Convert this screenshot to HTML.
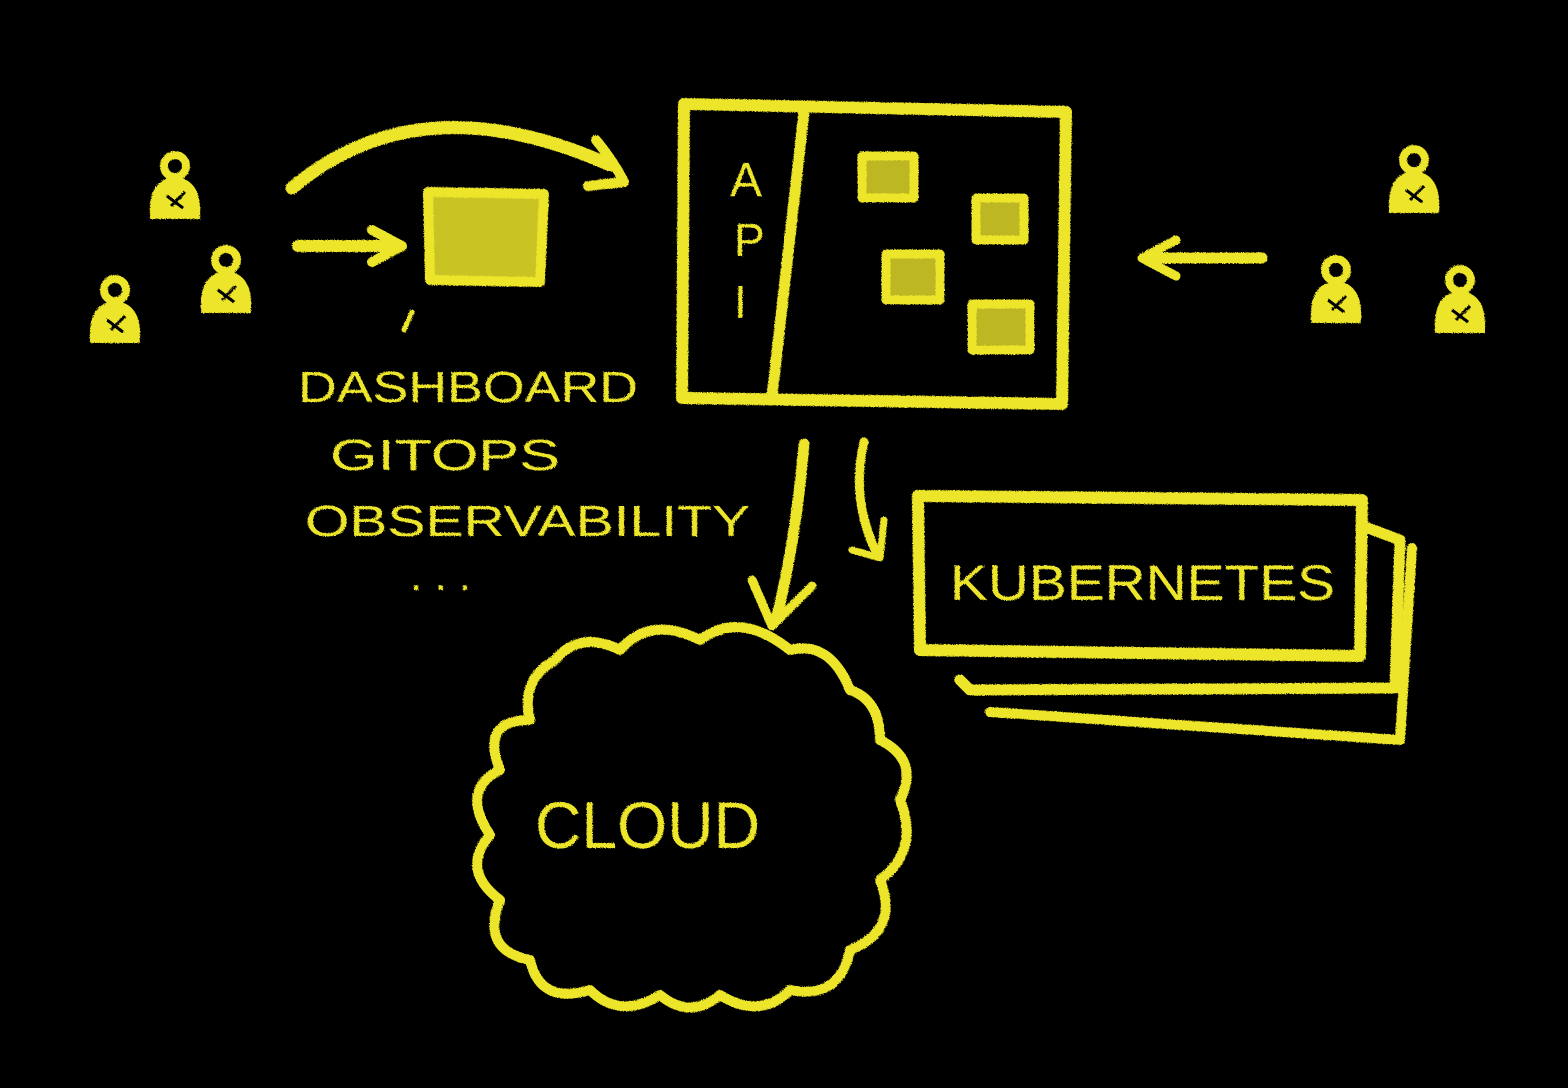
<!DOCTYPE html>
<html><head><meta charset="utf-8"><style>
html,body{margin:0;padding:0;background:#000;}
svg{display:block}
text{font-family:"Liberation Sans",sans-serif;fill:#ece52a;}
</style></head><body>
<svg width="1568" height="1088" viewBox="0 0 1568 1088" xmlns="http://www.w3.org/2000/svg">
<defs>
<filter id="chalk" x="-5%" y="-5%" width="110%" height="110%">
<feTurbulence type="fractalNoise" baseFrequency="0.9" numOctaves="2" result="n"/>
<feDisplacementMap in="SourceGraphic" in2="n" scale="3"/>
</filter>
<g id="person">
<circle cx="0" cy="-22" r="11" fill="none" stroke="#ece52a" stroke-width="8"/>
<path d="M-22 28 Q-24 -6 0 -8 Q24 -6 22 28 Z" fill="#ece52a" stroke="#ece52a" stroke-width="6"/>
<path d="M-8 8 L8 20 M-4 18 L10 4" stroke="#000" stroke-width="3"/>
</g>
</defs>
<rect width="1568" height="1088" fill="#000"/>
<g filter="url(#chalk)" stroke="#ece52a" fill="none" stroke-linecap="round" stroke-linejoin="round">
<path d="M684 104 L1066 112 L1062 404 L682 398 Z" stroke-width="12"/>
<path d="M804 112 L772 396" stroke-width="11"/>
<rect x="862" y="156" width="52" height="42" stroke-width="9" fill="#ece52a" fill-opacity="0.8"/>
<rect x="976" y="198" width="48" height="42" stroke-width="9" fill="#ece52a" fill-opacity="0.8"/>
<rect x="886" y="254" width="54" height="46" stroke-width="9" fill="#ece52a" fill-opacity="0.8"/>
<rect x="972" y="304" width="58" height="46" stroke-width="9" fill="#ece52a" fill-opacity="0.8"/>
<path d="M428 192 L544 194 L540 282 L430 280 Z" stroke-width="10" fill="#ece52a" fill-opacity="0.85"/>
<path d="M412 312 L404 330" stroke-width="5"/>
<path d="M292 188 Q420 80 610 165" stroke-width="13"/>
<path d="M596 140 Q614 162 624 182 M588 186 L624 182" stroke-width="10"/>
<path d="M298 246 L400 246" stroke-width="12"/>
<path d="M372 230 L402 246 L372 262" stroke-width="10"/>
<path d="M1262 258 L1146 258" stroke-width="11"/>
<path d="M1176 240 L1142 258 L1176 276" stroke-width="9"/>
<path d="M804 444 Q796 540 776 620" stroke-width="11"/>
<path d="M752 580 L772 626 L812 586" stroke-width="9"/>
<path d="M864 442 Q850 500 878 556" stroke-width="9"/>
<path d="M852 550 L880 558 L884 520" stroke-width="7"/>
<path d="M960 680 L970 690 L1395 688 L1400 540 L1368 528" stroke-width="11"/>
<path d="M990 712 L1400 740 L1412 548" stroke-width="10"/>
<path d="M918 496 L1362 500 L1360 656 L920 650 Z" stroke-width="12"/>
<path d="M555 660 Q580 630 620 650 Q650 615 700 640 Q740 610 790 650 Q830 640 850 690 Q880 700 880 740 Q920 760 900 800 Q920 850 880 880 Q900 930 850 950 Q840 1000 790 990 Q760 1020 720 995 Q690 1020 660 995 Q620 1020 590 990 Q540 1005 530 960 Q480 950 500 900 Q460 870 490 835 Q460 790 500 770 Q480 720 530 720 Q520 680 555 660 Z" stroke-width="10"/>
</g>
<g filter="url(#chalk)">
<use href="#person" x="175" y="188"/>
<use href="#person" x="226" y="282"/>
<use href="#person" x="115" y="312"/>
<use href="#person" x="1414" y="182"/>
<use href="#person" x="1336" y="292"/>
<use href="#person" x="1460" y="302"/>
<text x="730" y="196" font-size="48">A</text>
<text x="734" y="256" font-size="46">P</text>
<text x="734" y="318" font-size="46">I</text>
<text x="298" y="402" font-size="44" textLength="340" lengthAdjust="spacingAndGlyphs">DASHBOARD</text>
<text x="330" y="470" font-size="44" textLength="230" lengthAdjust="spacingAndGlyphs">GITOPS</text>
<text x="305" y="536" font-size="44" textLength="445" lengthAdjust="spacingAndGlyphs">OBSERVABILITY</text>
<text x="410" y="590" font-size="44">. . .</text>
<text x="950" y="600" font-size="50" textLength="385" lengthAdjust="spacingAndGlyphs">KUBERNETES</text>
<text x="535" y="848" font-size="66" textLength="225" lengthAdjust="spacingAndGlyphs">CLOUD</text>
</g>
</svg>
</body></html>
